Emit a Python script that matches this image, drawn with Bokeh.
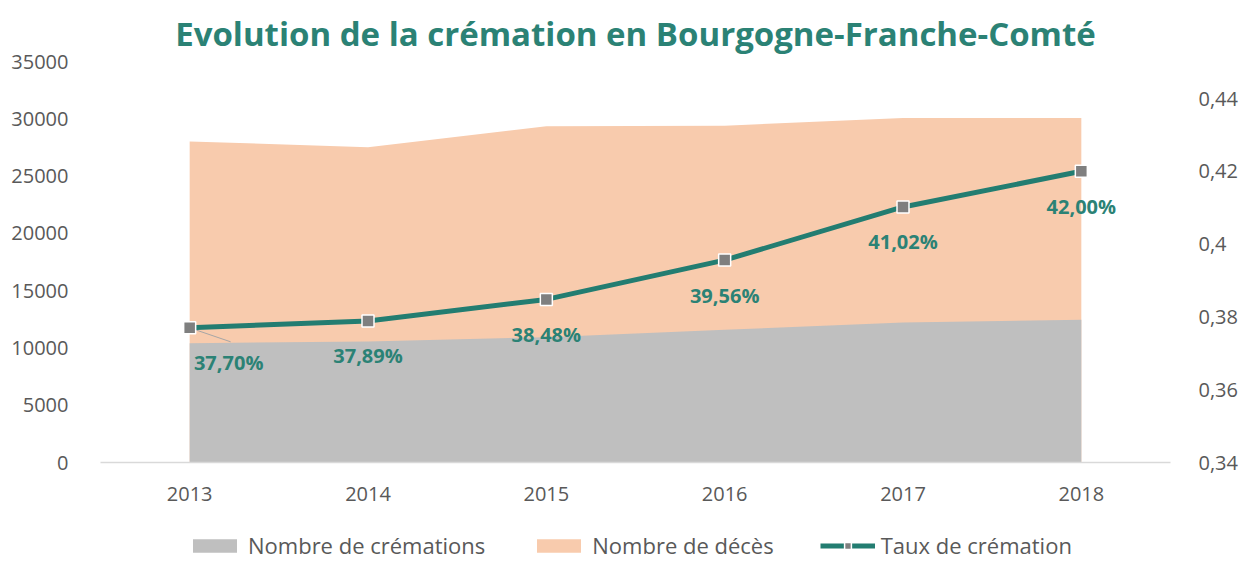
from bokeh.plotting import figure
from bokeh.models import (ColumnDataSource, LinearAxis, Range1d, FixedTicker,
                          Legend, LegendItem, Title)
from bokeh.layouts import column
from bokeh.core.properties import value
from bokeh.embed import file_html
from bokeh.resources import INLINE

# ---------------- data ----------------
years = ["2013", "2014", "2015", "2016", "2017", "2018"]
cremations = [10410, 10560, 10940, 11580, 12220, 12460]
deces = [28020, 27520, 29350, 29400, 30070, 30070]
taux = [0.3770, 0.3789, 0.3848, 0.3956, 0.4102, 0.4200]
taux_labels = ["37,70%", "37,89%", "38,48%", "39,56%", "41,02%", "42,00%"]
left_ticks = [0, 5000, 10000, 15000, 20000, 25000, 30000, 35000]
right_ticks = [0.34, 0.36, 0.38, 0.40, 0.42, 0.44]
right_tick_labels = ["0,34", "0,36", "0,38", "0,4", "0,42", "0,44"]
legend_labels = ["Nombre de crémations", "Nombre de décès", "Taux de crémation"]

# ---------------- style ----------------
FONT = "Open Sans"
TEAL = "#237d71"
TITLE_COL = "#2b8275"
GREY_AREA = "#bfbfbf"
PEACH = "#f8cbad"
TICK_COL = "#595959"
MARK_FILL = "#7f7f7f"

FW, FH = 1070, 401
idx = list(range(len(years)))
src = ColumnDataSource(dict(x=idx, crem=cremations, dec=deces, taux=taux, lab=taux_labels))

p = figure(frame_width=FW, frame_height=FH, output_backend="svg", toolbar_location=None,
           x_range=Range1d(-0.5, len(years) - 0.5),
           y_range=Range1d(0, 35000),
           min_border_left=100, min_border_right=73, min_border_top=61,
           min_border_bottom=46)
rate_top = 0.34 + 0.1 * 401 / 364
p.extra_y_ranges = {"rate": Range1d(0.34, rate_top)}

p.outline_line_color = None
p.grid.visible = False
p.background_fill_color = "white"
p.border_fill_color = "white"

# title
p.title = Title(text="Evolution de la crémation en Bourgogne-Franche-Comté",
                text_font=FONT, text_font_size="33px", text_font_style="bold",
                text_color=TITLE_COL, align="center", standoff=11)

# areas
p.varea(x="x", y1=0, y2="dec", source=src, fill_color=PEACH)
p.varea(x="x", y1=0, y2="crem", source=src, fill_color=GREY_AREA)

# leader line for first label
px_x = len(years) / FW
px_y = (rate_top - 0.34) / FH
p.segment(x0=idx[0], y0=taux[0], x1=idx[0] + 41 * px_x, y1=taux[0] - 14 * px_y,
          y_range_name="rate", line_color="#a6a6a6", line_width=1)

# line + markers
p.line(x="x", y="taux", source=src, y_range_name="rate", line_color=TEAL, line_width=5)
p.scatter(x="x", y="taux", source=src, y_range_name="rate", marker="square",
          size=12, fill_color=MARK_FILL, line_color="white", line_width=1.5)

# data labels
src_first = ColumnDataSource(dict(x=idx[:1], taux=taux[:1], lab=taux_labels[:1]))
src_rest = ColumnDataSource(dict(x=idx[1:], taux=taux[1:], lab=taux_labels[1:]))
for s, dx in ((src_first, 39), (src_rest, 0)):
    p.text(x="x", y="taux", text="lab", source=s, y_range_name="rate",
           x_offset=dx, y_offset=35, text_align="center", text_baseline="middle",
           text_font=value(FONT), text_font_size="20px", text_font_style="bold",
           text_color=TITLE_COL)

# axes
xa = p.xaxis[0]
xa.ticker = FixedTicker(ticks=idx)
xa.major_label_overrides = {i: y for i, y in zip(idx, years)}
xa.axis_line_color = "#d9d9d9"
xa.axis_line_width = 1.5
xa.major_tick_line_color = None
xa.minor_tick_line_color = None
xa.major_label_standoff = 18
xa.major_label_text_font = FONT
xa.major_label_text_font_size = "20px"
xa.major_label_text_color = TICK_COL

ya = p.yaxis[0]
ya.ticker = FixedTicker(ticks=left_ticks)
ya.major_label_overrides = {t: str(t) for t in left_ticks}
ya.axis_line_color = None
ya.major_tick_line_color = None
ya.minor_tick_line_color = None
ya.major_label_standoff = 26
ya.major_label_text_font = FONT
ya.major_label_text_font_size = "20px"
ya.major_label_text_color = TICK_COL

ra = LinearAxis(y_range_name="rate")
ra.ticker = FixedTicker(ticks=right_ticks)
ra.major_label_overrides = {t: l for t, l in zip(right_ticks, right_tick_labels)}
ra.axis_line_color = None
ra.major_tick_line_color = None
ra.minor_tick_line_color = None
ra.major_label_standoff = 22
ra.major_label_text_font = FONT
ra.major_label_text_font_size = "20px"
ra.major_label_text_color = TICK_COL
p.add_layout(ra, "right")

# ---------------- legend strip (separate small figure) ----------------
# same data source as the chart; ranges keep the glyphs themselves out of view
LH = 561 - (61 + FH + 46)
lp = figure(frame_width=1243, frame_height=LH, output_backend="svg", toolbar_location=None,
            x_range=Range1d(100, 101), y_range=Range1d(100, 101),
            x_axis_location=None, y_axis_location=None,
            min_border_left=0, min_border_right=0, min_border_top=0, min_border_bottom=0)
lp.outline_line_color = None
lp.grid.visible = False
g1 = lp.varea(x="x", y1=0, y2="crem", source=src, fill_color=GREY_AREA)
g2 = lp.varea(x="x", y1=0, y2="dec", source=src, fill_color=PEACH)
g3 = lp.line(x="x", y="taux", source=src, line_color=TEAL, line_width=5)
g4 = lp.scatter(x="x", y="taux", source=src, marker="square", size=12,
                fill_color=MARK_FILL, line_color="white", line_width=1.5)

legend = Legend(items=[
    LegendItem(label=legend_labels[0], renderers=[g1]),
    LegendItem(label=legend_labels[1], renderers=[g2]),
    LegendItem(label=legend_labels[2], renderers=[g3, g4]),
], orientation="horizontal", location=(187, 1))
legend.border_line_color = None
legend.background_fill_alpha = 0
legend.glyph_width = 55
legend.glyph_height = 17
legend.label_standoff = 6
legend.spacing = 46
legend.padding = 0
legend.margin = 0
legend.label_text_font = FONT
legend.label_text_font_size = "22px"
legend.label_text_color = TICK_COL
lp.add_layout(legend, "center")

layout = column(p, lp, spacing=0)
open("out.html", "w").write(file_html(layout, INLINE))
